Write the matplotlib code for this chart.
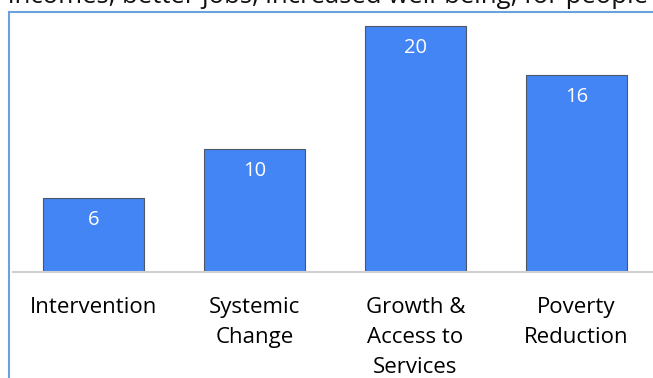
import matplotlib.pyplot as plt
from matplotlib.lines import Line2D

# data
categories = ["Intervention", "Systemic\nChange", "Growth &\nAccess to\nServices", "Poverty\nReduction"]
values = [6, 10, 20, 16]
header_text = "incomes, better jobs, increased well-being, for people"

plt.rcParams['font.family'] = ['Open Sans', 'DejaVu Sans']

W, H = 653, 378
fig = plt.figure(figsize=(W / 100, H / 100), dpi=100)

# axes placed in pixel terms: baseline at y=272, frame top at y=12
left, right, top, bottom = 13, 657, 12, 272
ax = fig.add_axes([left / W, (H - bottom) / H, (right - left) / W, (bottom - top) / H])

bars = ax.bar(range(len(values)), values, width=0.627, color='#4385f4',
              edgecolor='#4d5866', linewidth=0.8, zorder=2)
ax.set_xlim(-0.5, len(values) - 0.5)
ax.set_ylim(0, 20 * 260 / 246)

# value labels inside the top of each bar
for b, v in zip(bars, values):
    ax.annotate(str(v), xy=(b.get_x() + b.get_width() / 2, v), xytext=(0, -22),
                textcoords='offset pixels',
                ha='center', va='center', color='white', fontsize=14.5, zorder=3)

ax.set_xticks(range(len(values)))
ax.set_xticklabels(categories, fontsize=16, linespacing=1.55, va='top')
ax.tick_params(axis='x', length=0, pad=18)
ax.set_yticks([])
for s in ['top', 'right', 'left']:
    ax.spines[s].set_visible(False)
ax.spines['bottom'].set_color('#d0d0d0')
ax.spines['bottom'].set_linewidth(1.5)

# outer blue frame of the screenshot
fig.add_artist(Line2D([9 / W, 9 / W], [0, (H - 12) / H], color='#6aa3dc', lw=1.5))
fig.add_artist(Line2D([9 / W, 1], [(H - 12) / H, (H - 12) / H], color='#6aa3dc', lw=1.5))

# header text cut off at the top edge
fig.text(8 / W, (H - 3) / H, header_text, fontsize=18.5, ha='left', va='baseline', color='#111111')

fig.savefig('out.png', dpi=100)
